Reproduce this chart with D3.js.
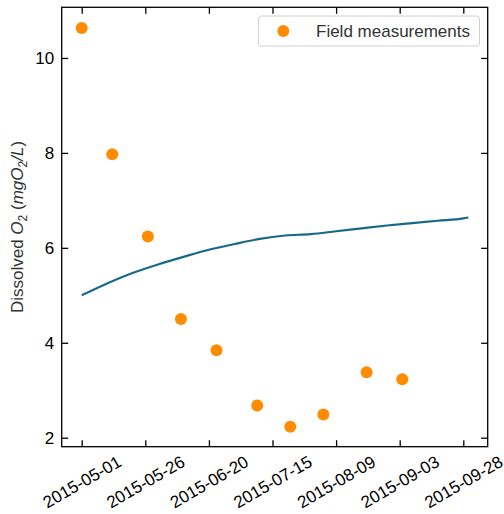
<!DOCTYPE html>
<html><head><meta charset="utf-8">
<script src="https://cdn.jsdelivr.net/npm/d3@7"></script>
<style>body{margin:0;background:#fff}svg{display:block;font-family:"Liberation Sans",Arial,sans-serif}</style>
</head><body><svg id="c" width="504" height="514"></svg>
<script>
const measDates = ["2015-05-01","2015-05-13","2015-05-27","2015-06-09","2015-06-23","2015-07-09","2015-07-22","2015-08-04","2015-08-21","2015-09-04"];
const measValues = [10.63,7.97,6.24,4.50,3.84,2.68,2.23,2.49,3.38,3.23];
const modelDates = ["2015-05-01","2015-05-11","2015-05-21","2015-05-31","2015-06-10","2015-06-20","2015-06-30","2015-07-10","2015-07-20","2015-07-30","2015-08-09","2015-08-19","2015-08-29","2015-09-08","2015-09-18","2015-09-28","2015-09-30"];
const modelValues = [5.00,5.25,5.47,5.65,5.81,5.96,6.08,6.19,6.26,6.29,6.35,6.41,6.47,6.52,6.57,6.62,6.64];
const xTickLabels = ["2015-05-01","2015-05-26","2015-06-20","2015-07-15","2015-08-09","2015-09-03","2015-09-28"];
const yTicks = [2,4,6,8,10];
const legendLabel = "Field measurements";

const parse = d3.utcParse("%Y-%m-%d");
const svg = d3.select("#c");
const L = 61.7, R = 487.7, T = 7.3, B = 446.7;
const x = d3.scaleUtc().domain([parse("2015-04-23"), parse("2015-10-07")]).range([L, R]);
// calibrate: 2015-05-01 at 81.7, 2015-09-28 at 463.3
const d0 = parse("2015-05-01"), d1 = parse("2015-09-28");
const pxPerDay = (463.3 - 81.7) / ((d1 - d0) / 864e5);
x.domain([new Date(+d0 - (81.7 - L) / pxPerDay * 864e5), new Date(+d0 + (R - 81.7) / pxPerDay * 864e5)]);
const y = d3.scaleLinear().domain([2 - (B - 437.7) / 47.5, 10 + (58 - T) / 47.5]).range([B, T]);

const g = svg.append("g");
// model line
g.append("path")
  .datum(modelDates.map((d, i) => [parse(d), modelValues[i]]))
  .attr("fill", "none").attr("stroke", "#176a87").attr("stroke-width", 2.2)
  .attr("d", d3.line().x(d => x(d[0])).y(d => y(d[1])).curve(d3.curveMonotoneX));
// points
g.selectAll("circle.m").data(measDates.map((d, i) => [parse(d), measValues[i]])).enter()
  .append("circle").attr("cx", d => x(d[0])).attr("cy", d => y(d[1])).attr("r", 6)
  .attr("fill", "#ff8c00");

// axes (ticks inward)
const tickDates = xTickLabels.map(parse);
const fmt = d3.utcFormat("%Y-%m-%d");
const tl = 6.5;
const ax = svg.append("g").attr("transform", `translate(0,${B})`)
  .call(d3.axisBottom(x).tickValues(tickDates).tickSize(-tl).tickFormat(fmt));
const axT = svg.append("g").attr("transform", `translate(0,${T})`)
  .call(d3.axisTop(x).tickValues(tickDates).tickSize(-tl).tickFormat(""));
const ay = svg.append("g").attr("transform", `translate(${L},0)`)
  .call(d3.axisLeft(y).tickValues(yTicks).tickSize(-tl).tickFormat(d3.format("d")));
const ayR = svg.append("g").attr("transform", `translate(${R},0)`)
  .call(d3.axisRight(y).tickValues(yTicks).tickSize(-tl).tickFormat(""));
[ax, axT, ay, ayR].forEach(a => {
  a.select(".domain").remove();
  a.selectAll(".tick line").attr("stroke", "#000").attr("stroke-width", 1.3);
  a.selectAll("text").attr("font-size", 17).attr("fill", "#000").attr("font-family", "Liberation Sans, Arial, sans-serif");
});
ay.selectAll(".tick text").attr("x", -7.5).attr("dy", "0.35em");
ax.selectAll(".tick text")
  .attr("y", 0).attr("dy", 0)
  .attr("text-anchor", "middle").attr("dominant-baseline", "central")
  .attr("transform", "translate(0,35.5) rotate(-30)");

// frame
svg.append("rect").attr("x", L).attr("y", T).attr("width", R - L).attr("height", B - T)
  .attr("fill", "none").attr("stroke", "#000").attr("stroke-width", 1.3);

// y label
const yl = svg.append("text").attr("transform", `translate(23,${(T + B) / 2}) rotate(-90)`)
  .attr("text-anchor", "middle").attr("font-size", 17).attr("fill", "#333");
yl.append("tspan").text("Dissolved ");
yl.append("tspan").attr("font-style", "italic").text("O");
yl.append("tspan").attr("font-size", 12).attr("dy", 4).text("2");
yl.append("tspan").attr("dy", -4).text(" (");
yl.append("tspan").attr("font-style", "italic").text("mgO");
yl.append("tspan").attr("font-size", 12).attr("dy", 4).text("2");
yl.append("tspan").attr("dy", -4).attr("font-style", "italic").text("/L");
yl.append("tspan").text(")");

// legend
const lg = svg.append("g");
lg.append("rect").attr("x", 258.5).attr("y", 16).attr("width", 221).attr("height", 30)
  .attr("rx", 3).attr("fill", "#fff").attr("fill-opacity", 0.8).attr("stroke", "#d0d0d0").attr("stroke-width", 1);
lg.append("circle").attr("cx", 283.3).attr("cy", 31).attr("r", 6).attr("fill", "#ff8c00");
lg.append("text").attr("x", 316).attr("y", 36.5).attr("font-size", 17).attr("fill", "#333").text(legendLabel);
</script></body></html>
